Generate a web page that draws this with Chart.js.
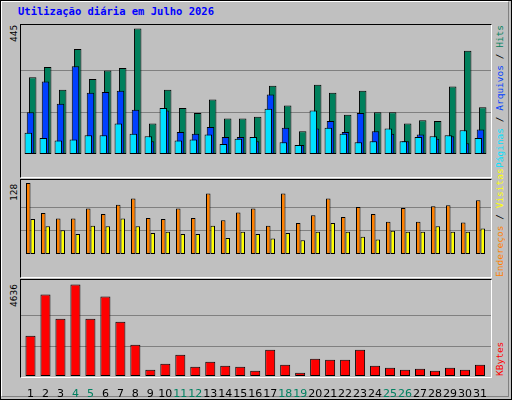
<!DOCTYPE html>
<html><head><meta charset="utf-8">
<script src="https://cdn.jsdelivr.net/npm/chart.js@4"></script>
<style>
html,body{margin:0;padding:0;}
body{width:512px;height:400px;background:#c0c0c0;position:relative;overflow:hidden;font-family:'DejaVu Sans Mono',monospace;}
#outer{position:absolute;left:0;top:0;width:510px;height:398px;border:1px solid #000;}
#bev{position:absolute;left:1px;top:1px;width:506px;height:394px;border-top:1px solid #fff;border-left:1px solid #fff;border-right:1px solid #808080;border-bottom:1px solid #808080;}
.panel{position:absolute;left:20px;width:470px;border-left:1px solid #000;border-top:1px solid #000;border-right:1px solid #fff;border-bottom:1px solid #fff;}
canvas{position:absolute;}
.t{position:absolute;white-space:nowrap;font-size:9.5px;line-height:10px;transform-origin:0 0;transform:rotate(-90deg);}
#title{position:absolute;left:18px;top:5px;font-weight:bold;font-size:10.5px;color:#0000ff;}
</style></head><body>
<div id="outer"></div><div id="bev"></div>
<div id="title">Utilização diária em Julho 2026</div>
<div class="panel" style="top:24px;height:152px"></div>
<div class="panel" style="top:179px;height:97px"></div>
<div class="panel" style="top:279px;height:97px"></div>
<canvas id="c1" style="left:21px;top:25px"></canvas>
<canvas id="c2" style="left:21px;top:180px"></canvas>
<canvas id="c3" style="left:21px;top:280px"></canvas>
<div class="t" data-end="25" style="left:9px">445</div>
<div class="t" data-end="184" style="left:9px">128</div>
<div class="t" data-end="284" style="left:9px">4636</div>
<div class="t" data-end="25" style="left:495px"><span style="color:#00e0ff">Páginas</span> / <span style="color:#0040ff">Arquivos</span> / <span style="color:#00805c">Hits</span></div>
<div class="t" data-start="277" style="left:495px"><span style="color:#ff8000">Endereços</span> / <span style="color:#ffff00">Visitas</span></div>
<div class="t" data-start="376" style="left:495px"><span style="color:#ff0000">KBytes</span></div>
<script>
const days = Array.from({length:31},(_,i)=>String(i+1));
const weekendDays = [4,5,11,12,18,19,25,26];
const hits  = [272,308,228,372,266,296,305,445,108,228,163,145,193,126,126,132,242,172,81,245,217,139,224,148,148,108,120,117,239,366,166];
const files = [148,257,178,311,217,220,224,157,45,154,78,72,96,60,60,45,211,93,32,90,117,78,145,81,72,45,69,54,63,38,87];
const pages = [75,57,48,51,66,66,108,72,63,163,48,51,69,35,54,60,160,42,32,154,93,72,42,45,90,45,60,63,66,84,57];
const visits = [63,50,43,36,51,50,64,50,38,40,36,36,51,29,40,36,28,38,25,40,56,40,31,26,42,40,40,50,40,40,46];
const sites  = [128,74,64,64,82,72,89,100,65,63,82,65,109,61,75,82,51,109,56,70,100,67,85,72,58,83,58,86,88,57,97];
const kbytes = [2047,4128,2910,4636,2910,4027,2758,1590,321,626,1083,474,728,525,474,271,1337,575,169,880,829,829,1337,525,423,321,372,271,423,321,575];
const maxHits=445, maxVisits=128, maxKB=4636;

document.querySelectorAll('.t').forEach(el=>{
 const w=el.offsetWidth;
 if(el.dataset.end) el.style.top=(+el.dataset.end+w)+'px'; else el.style.top=el.dataset.start+'px';
});

const gridPlugin={id:'g',beforeDatasetsDraw(ch){const y=ch.scales.y,c=ch.ctx;c.save();c.strokeStyle='#808080';c.lineWidth=1;
 ch.options.gl.forEach(v=>{const p=Math.round(y.getPixelForValue(v))+0.5;c.beginPath();c.moveTo(0,p);c.lineTo(ch.width,p);c.stroke();});c.restore();}};

function make(id,datasets,ymax,gl,showX){
 const cv=document.getElementById(id);
 return new Chart(cv,{type:'bar',data:{labels:days,datasets},
  options:{gl,responsive:false,animation:false,devicePixelRatio:1,
   layout:{padding:{left:2,right:3,top:0,bottom:0}},
   plugins:{legend:{display:false},tooltip:{enabled:false}},
   scales:{
    x:{display:showX,grid:{display:false},border:{display:false},
       afterFit:s=>{s.height=22;},
       ticks:{padding:4,maxRotation:0,autoSkip:false,font:{family:'DejaVu Sans',size:11},
        color:c=>weekendDays.includes(c.index+1)?'#008060':'#000'}},
    y:{display:false,min:0,max:ymax}}},
  plugins:[gridPlugin]});
}
function sz(id,w,h){const c=document.getElementById(id);c.width=w;c.height=h;c.style.width=w+'px';c.style.height=h+'px';}
sz('c1',470,151);sz('c2',470,96);sz('c3',470,118);
const b={borderColor:'#000',borderWidth:1,borderSkipped:false,categoryPercentage:0.44,barPercentage:3.4};
make('c1',[
 {...b,data:hits,backgroundColor:'#00805c',order:3},
 {...b,data:files,backgroundColor:'#0040ff',order:2},
 {...b,data:pages,backgroundColor:'#00e0ff',order:1}],maxHits*151/147,[maxHits/3,maxHits*2/3],false);
const b2={borderColor:'#000',borderWidth:1,borderSkipped:false,categoryPercentage:0.6,barPercentage:1};
make('c2',[
 {...b2,data:visits,backgroundColor:'#ffff00',order:2},
 {...b2,data:sites,backgroundColor:'#ff8000',order:1}],maxVisits*96/92,[maxVisits/3,maxVisits*2/3],false);
make('c3',[
 {data:kbytes,backgroundColor:'#ff0000',borderColor:'#000',borderWidth:1,borderSkipped:false,categoryPercentage:1,barPercentage:0.67}],
 maxKB*96/91.4,[maxKB/3,maxKB*2/3],true);
</script></body></html>
